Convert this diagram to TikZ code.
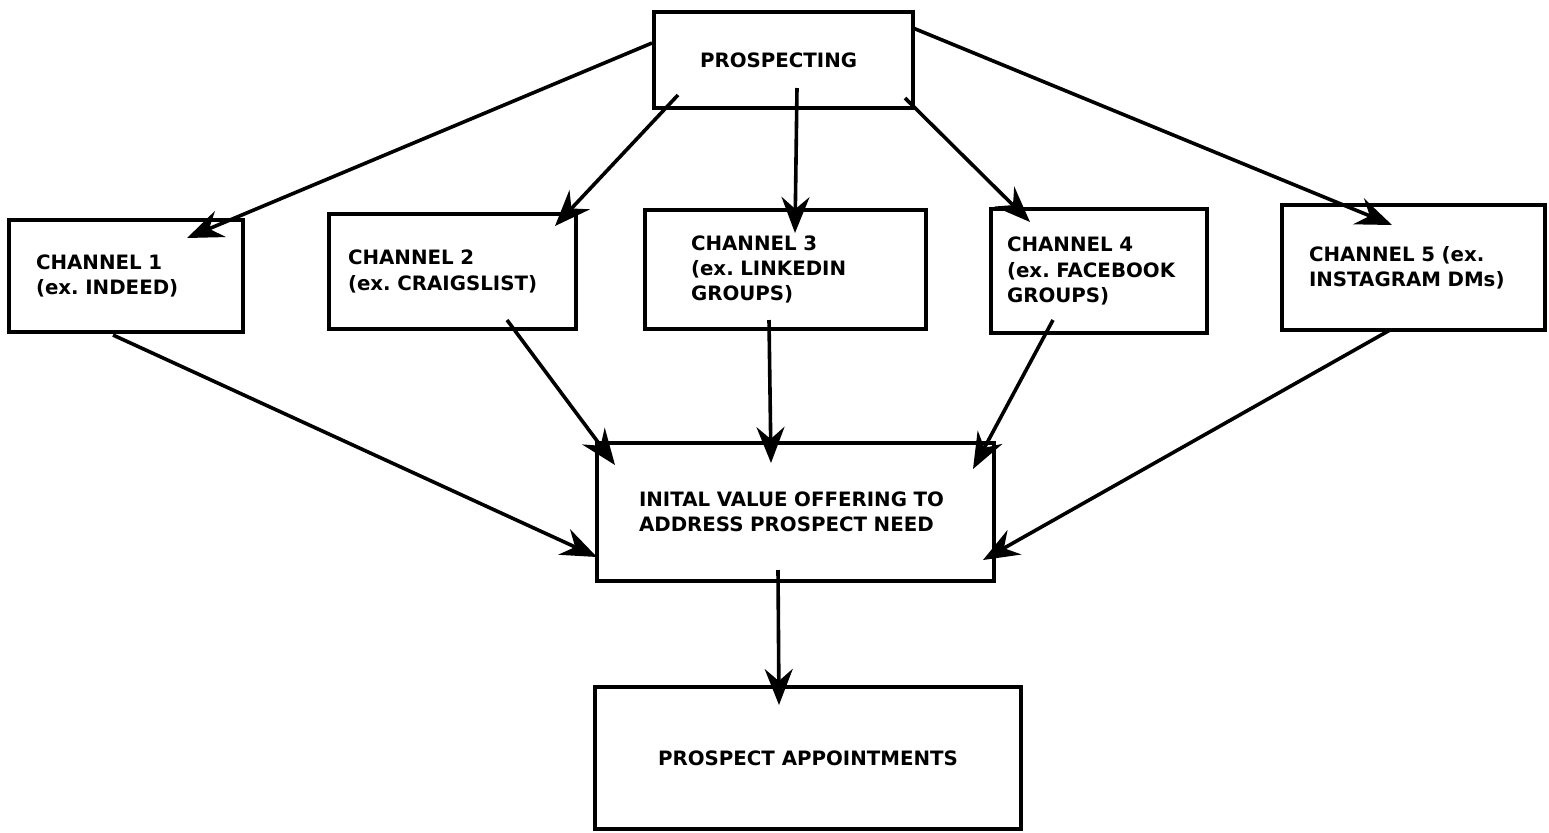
\documentclass[tikz,border=0pt]{standalone}
\usepackage{fontspec}
\setmainfont{DejaVu Sans}
\frenchspacing
\usetikzlibrary{arrows.meta,calc}
\begin{document}
\begin{tikzpicture}[x=0.5pt,y=-0.5pt,
  box/.style={draw, line width=2pt, font=\bfseries\fontsize{9.9}{12.7}\selectfont,
    align=left, inner ysep=0pt, anchor=north west, outer sep=0pt},
  arr/.style={line width=1.8pt, -{Stealth[length=18pt,width=14pt,inset=6pt]}}]
\useasboundingbox (0,0) rectangle (1549,832);

\node[box, minimum width=129.5pt, minimum height=48pt, inner xsep=23pt, text width=83.5pt] (pro) at (654,12) {PROSPECTING};
\node[box, minimum width=117pt, minimum height=56pt, inner xsep=13.5pt, text width=90pt] (ch1) at (9,220) {CHANNEL 1\\(ex. INDEED)};
\node[box, minimum width=123.5pt, minimum height=57.5pt, inner xsep=9.5pt, text width=104.5pt] (ch2) at (329,214) {CHANNEL 2\\(ex. CRAIGSLIST)};
\node[box, minimum width=140.5pt, minimum height=59.5pt, inner xsep=23pt, text width=94.5pt] (ch3) at (645,210) {CHANNEL 3\\(ex. LINKEDIN\\GROUPS)};
\node[box, minimum width=108pt, minimum height=62pt, inner xsep=8pt, text width=92pt] (ch4) at (991,209) {CHANNEL 4\\(ex. FACEBOOK\\GROUPS)};
\node[box, minimum width=131.5pt, minimum height=62.5pt, inner xsep=13.5pt, text width=104.5pt] (ch5) at (1282,205) {CHANNEL 5 (ex.\\INSTAGRAM DMs)};
\node[box, minimum width=198.5pt, minimum height=69pt, inner xsep=21pt, text width=156.5pt] (ini) at (597,443) {INITAL VALUE OFFERING TO\\ADDRESS PROSPECT NEED};
\node[box, minimum width=213pt, minimum height=71pt, align=center] (apt) at (595,687) {PROSPECT APPOINTMENTS};

\draw[arr] ([shift={(-2,-17)}]pro.west) -- ([shift={(178,18)}]ch1.north west);
\draw[arr] ([shift={(24,-13)}]pro.south west) -- ([shift={(-21,12)}]ch2.north east);
\draw[arr] ([shift={(13.5,-20)}]pro.south) -- ([shift={(9.5,23)}]ch3.north);
\draw[arr] ([shift={(-8,-10)}]pro.south east) -- ([shift={(39,13)}]ch4.north west);
\draw[arr] ([shift={(0,16)}]pro.north east) -- ([shift={(-21.5,20)}]ch5.north);

\draw[arr] ([shift={(-13,3)}]ch1.south) -- ([shift={(0,114)}]ini.north west);
\draw[arr] ([shift={(54.5,-9)}]ch2.south) -- ([shift={(18,22)}]ini.north west);
\draw[arr] ([shift={(-16.5,-9)}]ch3.south) -- ([shift={(-24.5,20)}]ini.north);
\draw[arr] ([shift={(-46,-13)}]ch4.south) -- ([shift={(-21,26)}]ini.north east);
\draw[arr] ([shift={(-23.5,0)}]ch5.south) -- ([shift={(-11,48)}]ini.east);

\draw[arr] ([shift={(-17.5,-11)}]ini.south) -- ([shift={(-29,18)}]apt.north);
\end{tikzpicture}
\end{document}
